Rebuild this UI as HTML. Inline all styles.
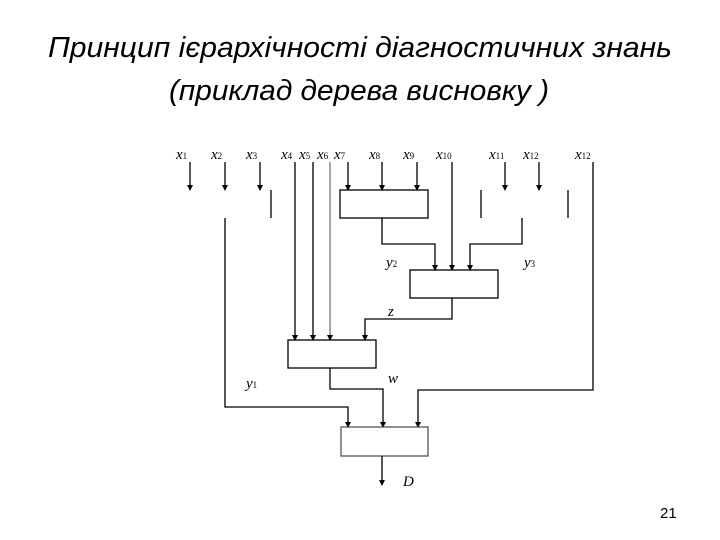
<!DOCTYPE html>
<html><head><meta charset="utf-8"><style>body{margin:0;background:#fff}svg{display:block}</style></head><body>
<svg width="720" height="540" viewBox="0 0 720 540" xmlns="http://www.w3.org/2000/svg">
<defs><marker id="a" markerWidth="6" markerHeight="6" refX="5" refY="3" orient="auto" markerUnits="userSpaceOnUse"><path d="M0,0 L6,3 L0,6z" fill="#000"/></marker></defs>
<g font-family="Liberation Sans, sans-serif" font-style="italic" font-size="29" fill="#000">
<text x="48" y="57" textLength="624" lengthAdjust="spacingAndGlyphs">Принцип ієрархічності діагностичних знань</text>
<text x="169" y="100" textLength="380" lengthAdjust="spacingAndGlyphs">(приклад дерева висновку )</text>
</g>
<text x="660" y="518" font-family="Liberation Sans, sans-serif" font-size="15">21</text>
<g font-family="Liberation Serif, serif" font-style="italic" font-size="15" fill="#000">
<text x="176" y="159">x<tspan font-size="9" font-style="normal">1</tspan></text>
<text x="211" y="159">x<tspan font-size="9" font-style="normal">2</tspan></text>
<text x="246" y="159">x<tspan font-size="9" font-style="normal">3</tspan></text>
<text x="281" y="159">x<tspan font-size="9" font-style="normal">4</tspan></text>
<text x="299" y="159">x<tspan font-size="9" font-style="normal">5</tspan></text>
<text x="317" y="159">x<tspan font-size="9" font-style="normal">6</tspan></text>
<text x="334" y="159">x<tspan font-size="9" font-style="normal">7</tspan></text>
<text x="369" y="159">x<tspan font-size="9" font-style="normal">8</tspan></text>
<text x="403" y="159">x<tspan font-size="9" font-style="normal">9</tspan></text>
<text x="436" y="159">x<tspan font-size="9" font-style="normal">10</tspan></text>
<text x="489" y="159">x<tspan font-size="9" font-style="normal">11</tspan></text>
<text x="523" y="159">x<tspan font-size="9" font-style="normal">12</tspan></text>
<text x="575" y="159">x<tspan font-size="9" font-style="normal">12</tspan></text>
<text x="386" y="267">y<tspan font-size="9" font-style="normal">2</tspan></text>
<text x="524" y="267">y<tspan font-size="9" font-style="normal">3</tspan></text>
<text x="388" y="316">z</text>
<text x="388" y="383">w</text>
<text x="246" y="388">y<tspan font-size="9" font-style="normal">1</tspan></text>
<text x="403" y="486">D</text>
</g>
<g stroke="#000" stroke-width="1.3" fill="none">
<line x1="190" y1="162" x2="190" y2="190" marker-end="url(#a)"/>
<line x1="225" y1="162" x2="225" y2="190" marker-end="url(#a)"/>
<line x1="260" y1="162" x2="260" y2="190" marker-end="url(#a)"/>
<line x1="271" y1="190" x2="271" y2="218"/>
<line x1="481" y1="190" x2="481" y2="218"/>
<line x1="568" y1="190" x2="568" y2="218"/>
<line x1="348" y1="162" x2="348" y2="190" marker-end="url(#a)"/>
<line x1="382" y1="162" x2="382" y2="190" marker-end="url(#a)"/>
<line x1="417" y1="162" x2="417" y2="190" marker-end="url(#a)"/>
<line x1="505" y1="162" x2="505" y2="190" marker-end="url(#a)"/>
<line x1="539" y1="162" x2="539" y2="190" marker-end="url(#a)"/>
<rect x="340" y="190" width="88" height="28"/>
<polyline points="382,218 382,244 435,244 435,270" marker-end="url(#a)"/>
<line x1="452" y1="162" x2="452" y2="270" marker-end="url(#a)"/>
<polyline points="522,218 522,244 470,244 470,270" marker-end="url(#a)"/>
<rect x="410" y="270" width="88" height="28"/>
<polyline points="452,298 452,319 365,319 365,340" marker-end="url(#a)"/>
<line x1="295" y1="162" x2="295" y2="340" marker-end="url(#a)"/>
<line x1="313" y1="162" x2="313" y2="340" marker-end="url(#a)"/>
<line x1="330" y1="162" x2="330" y2="340" marker-end="url(#a)" stroke="#777"/>
<rect x="288" y="340" width="88" height="28"/>
<polyline points="330,368 330,389 383,389 383,427" marker-end="url(#a)"/>
<polyline points="225,218 225,407 348,407 348,427" marker-end="url(#a)"/>
<polyline points="593,162 593,390 418,390 418,427" marker-end="url(#a)"/>
<rect x="341" y="427" width="87" height="29" stroke="#555"/>
<line x1="382" y1="456" x2="382" y2="485" marker-end="url(#a)"/>
</g>
</svg>
</body></html>
